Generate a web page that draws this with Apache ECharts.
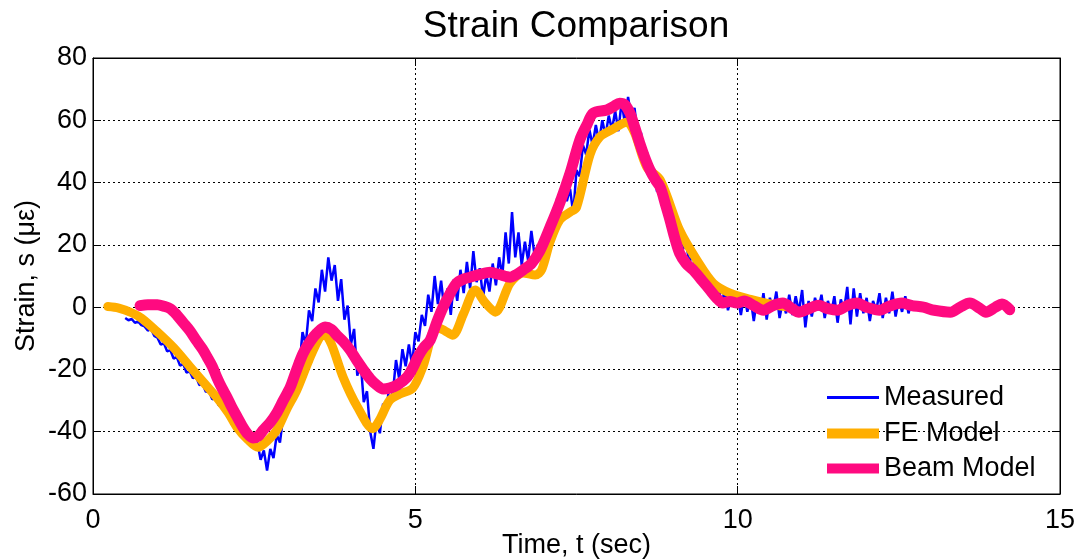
<!DOCTYPE html>
<html>
<head>
<meta charset="utf-8">
<script src="https://cdn.jsdelivr.net/npm/echarts@6/dist/echarts.min.js"></script>
<style>
html, body { margin: 0; padding: 0; background: #fff; }
#chart { width: 1078px; height: 560px; }
</style>
</head>
<body>
<div id="chart"></div>
<script>
var chart = echarts.init(document.getElementById('chart'));
var fontFamily = 'Liberation Sans, Arial, sans-serif';

// [time (sec), strain]
var measured = [
    [0.50, -3.5], [0.55, -4.2], [0.60, -3.8], [0.65, -5.0], [0.70, -4.6], [0.75, -5.8], [0.80, -6.2], [0.85, -7.5],
    [0.90, -7.0], [0.95, -9.2], [1.00, -9.8], [1.05, -12.0], [1.10, -11.6], [1.15, -14.2], [1.20, -13.8], [1.25, -16.5],
    [1.30, -16.0], [1.35, -18.8], [1.40, -18.2], [1.45, -21.0], [1.50, -20.6], [1.55, -22.8], [1.60, -22.4], [1.65, -25.0],
    [1.70, -24.6], [1.75, -27.2], [1.80, -27.0], [1.85, -29.6], [1.90, -29.0], [1.95, -31.5], [2.00, -31.8], [2.05, -34.0],
    [2.10, -33.2], [2.15, -36.8], [2.20, -35.5], [2.25, -33.8], [2.30, -39.0], [2.35, -38.0], [2.40, -42.5], [2.45, -41.0],
    [2.50, -45.5], [2.55, -43.5], [2.60, -49.0], [2.65, -46.0], [2.70, -52.5], [2.75, -45.5], [2.80, -48.5], [2.85, -41.0],
    [2.90, -43.5], [2.95, -35.0], [3.00, -33.0], [3.05, -24.0], [3.10, -27.5], [3.15, -17.0], [3.20, -19.5], [3.25, -8.0],
    [3.30, -12.0], [3.35, -1.0], [3.40, -4.5], [3.45, 6.0], [3.50, 1.5], [3.55, 12.0], [3.60, 5.0], [3.65, 16.0],
    [3.70, 8.5], [3.75, 13.5], [3.80, 2.0], [3.85, 9.0], [3.90, -4.0], [3.95, 0.5], [4.00, -12.0], [4.05, -7.0],
    [4.10, -22.0], [4.15, -17.0], [4.20, -30.5], [4.25, -27.0], [4.30, -40.0], [4.35, -45.5], [4.40, -36.0], [4.45, -40.5],
    [4.50, -31.0], [4.55, -33.5], [4.60, -24.5], [4.65, -28.0], [4.70, -17.0], [4.75, -23.0], [4.80, -13.5], [4.85, -19.0],
    [4.90, -12.0], [4.95, -18.5], [5.00, -8.0], [5.05, -11.0], [5.10, -2.5], [5.15, -6.0], [5.20, 4.0], [5.25, -1.5],
    [5.30, 10.0], [5.35, 1.0], [5.40, 8.5], [5.45, -1.0], [5.50, 6.0], [5.55, -2.5], [5.60, 9.0], [5.65, 2.0],
    [5.70, 12.0], [5.75, 4.5], [5.80, 14.5], [5.85, 6.0], [5.90, 18.0], [5.95, 8.0], [6.00, 12.5], [6.05, 3.0],
    [6.10, 10.5], [6.15, 5.0], [6.20, 14.0], [6.25, 7.0], [6.30, 16.0], [6.35, 10.0], [6.40, 24.0], [6.45, 14.0],
    [6.50, 30.5], [6.55, 16.0], [6.60, 24.0], [6.65, 13.5], [6.70, 21.0], [6.75, 15.0], [6.80, 24.5], [6.85, 16.5],
    [6.90, 20.0], [6.95, 18.0], [7.00, 24.0], [7.05, 21.5], [7.10, 28.0], [7.15, 25.0], [7.20, 35.0], [7.25, 30.0],
    [7.30, 40.5], [7.35, 34.0], [7.40, 38.0], [7.45, 30.0], [7.50, 44.0], [7.55, 42.0], [7.60, 52.0], [7.65, 49.0],
    [7.70, 57.0], [7.75, 52.0], [7.80, 58.5], [7.85, 53.0], [7.90, 60.0], [7.95, 55.0], [8.00, 61.5], [8.05, 57.0],
    [8.10, 63.0], [8.15, 56.5], [8.20, 66.0], [8.25, 59.0], [8.30, 67.5], [8.35, 61.0], [8.40, 64.0], [8.45, 55.0],
    [8.50, 56.0], [8.55, 48.0], [8.60, 49.5], [8.65, 43.0], [8.70, 44.5], [8.75, 37.0], [8.80, 38.5], [8.85, 31.0],
    [8.90, 35.0], [8.95, 27.0], [9.00, 30.0], [9.05, 22.0], [9.10, 25.0], [9.15, 18.5], [9.20, 21.0], [9.25, 14.0],
    [9.30, 17.5], [9.35, 11.0], [9.40, 14.5], [9.45, 7.0], [9.50, 11.0], [9.55, 4.5], [9.60, 9.0], [9.65, 3.0],
    [9.70, 7.0], [9.75, 1.0], [9.80, 5.5], [9.85, -1.0], [9.90, 4.0], [9.95, 0.0], [10.00, 3.5], [10.05, -2.5],
    [10.10, 4.0], [10.15, -1.5], [10.20, 3.0], [10.25, -4.5], [10.30, 2.5], [10.35, -2.0], [10.40, 4.5], [10.45, -4.0],
    [10.50, 3.0], [10.55, -1.0], [10.60, 5.0], [10.65, -3.5], [10.70, 2.0], [10.75, -2.0], [10.80, 4.0], [10.85, -2.5],
    [10.90, 3.5], [10.95, -1.5], [11.00, 5.5], [11.05, -6.5], [11.10, 2.0], [11.15, -3.0], [11.20, 3.0], [11.25, -1.0],
    [11.30, 4.0], [11.35, -3.5], [11.40, 2.0], [11.45, -2.0], [11.50, 3.5], [11.55, -5.0], [11.60, 2.5], [11.65, -1.0],
    [11.70, 6.5], [11.75, -5.5], [11.80, 6.0], [11.85, -3.0], [11.90, 4.5], [11.95, -2.0], [12.00, 3.0], [12.05, -4.5],
    [12.10, 2.0], [12.15, -1.0], [12.20, 4.5], [12.25, -3.5], [12.30, 3.0], [12.35, -2.0], [12.40, 5.0], [12.45, -3.0],
    [12.50, 2.5], [12.55, -1.5], [12.60, 3.5], [12.65, -2.0], [12.70, 2.0], [12.75, -1.0], [12.80, 1.5], [12.85, -0.5],
    [12.90, 1.0]
];

var feModel = [
    [0.23, 0.2], [0.4, -0.3], [0.6, -1.8], [0.75, -3.5], [1.0, -8], [1.25, -13], [1.5, -19], [1.75, -25],
    [1.92, -29], [2.1, -34], [2.23, -38.5], [2.4, -42.5], [2.56, -45], [2.7, -43], [2.85, -39.5], [3.0, -33],
    [3.16, -26.7], [3.35, -17], [3.52, -9.6], [3.6, -9], [3.7, -12], [3.88, -22.5], [4.1, -32], [4.34, -39],
    [4.45, -36], [4.6, -30], [4.75, -28], [4.96, -26], [5.12, -19], [5.33, -6.4], [5.45, -7.5], [5.58, -9],
    [5.75, -2], [5.93, 5.5], [6.08, 1.5], [6.24, -1.6], [6.47, 7.7], [6.67, 11], [6.86, 10.3], [6.96, 12],
    [7.09, 21], [7.24, 28], [7.4, 30.5], [7.5, 32], [7.71, 49], [7.86, 54.6], [8.05, 57], [8.28, 59.4],
    [8.4, 56], [8.59, 45], [8.8, 40.8], [9.1, 24.7], [9.37, 15], [9.62, 7.7], [9.88, 4.5], [10.2, 2.5],
    [10.5, 1], [10.8, 0]
];

var beamModel = [
    [0.73, 0.5], [0.85, 0.8], [1.0, 0.8], [1.1, 0.3], [1.2, -0.5], [1.3, -2.5], [1.4, -5], [1.5, -7.5],
    [1.6, -10.6], [1.7, -13.5], [1.77, -16], [1.85, -19], [1.92, -22.5], [2.0, -26], [2.08, -29], [2.15, -32],
    [2.23, -35], [2.31, -38], [2.39, -40.5], [2.48, -42], [2.56, -41.5], [2.64, -39.5], [2.75, -37], [2.85, -34],
    [2.95, -30], [3.06, -25.7], [3.16, -20], [3.26, -14.8], [3.37, -11], [3.47, -8.4], [3.6, -6.4], [3.7, -7.2],
    [3.78, -9], [3.88, -11], [3.99, -13.8], [4.09, -17], [4.19, -20], [4.3, -23], [4.4, -25], [4.5, -26.3],
    [4.6, -26], [4.72, -25], [4.87, -22.5], [4.96, -19.5], [5.04, -16], [5.13, -13], [5.23, -10.6], [5.33, -5],
    [5.43, 0], [5.53, 4], [5.64, 7.7], [5.75, 9], [5.85, 9.6], [6.0, 10.5], [6.16, 11.2], [6.3, 10.5],
    [6.47, 9.6], [6.57, 10.5], [6.67, 11.9], [6.8, 14], [6.93, 18], [7.09, 25.7], [7.24, 33.4], [7.4, 43],
    [7.55, 53.6], [7.66, 58.5], [7.76, 62.3], [7.97, 63.3], [8.08, 64.5], [8.17, 65.5], [8.25, 65], [8.33, 62.3],
    [8.4, 58], [8.48, 52.7], [8.56, 48], [8.64, 44], [8.72, 41], [8.8, 38.5], [8.88, 33], [8.95, 28],
    [9.02, 22.5], [9.1, 17.3], [9.2, 14], [9.31, 11.9], [9.45, 8.5], [9.57, 5.5], [9.67, 3], [9.77, 1.3],
    [9.88, 1.8], [9.99, 1.3], [10.1, 2], [10.25, 0.5], [10.4, -1], [10.55, 0.5], [10.7, 1.3], [10.85, -0.5],
    [10.95, -1.6], [11.1, -0.5], [11.25, 0.6], [11.4, -0.5], [11.55, -1], [11.7, 0.5], [11.85, 1.3], [12.0, 0],
    [12.2, -1], [12.35, 0.3], [12.55, 1.3], [12.7, 0.5], [12.88, 0], [13.05, -1], [13.3, -1.6], [13.45, 0],
    [13.6, 1.3], [13.75, -0.3], [13.85, -1.6], [14.0, 0], [14.1, 1], [14.22, -0.8]
];

var xMin = 0, xMax = 15, xStep = 5;
var yMin = -60, yMax = 80, yStep = 20;

var blue = '#0000ff';
var orange = '#ffae00';
var pink = '#ff0a80';

// one legend per entry so each swatch can have its own thickness
function legendItem(name, top, height) {
    return {
        data: [{ name: name, icon: 'rect' }],
        left: 827,
        top: top,
        padding: 0,
        itemWidth: 52,
        itemHeight: height,
        textStyle: { fontFamily: fontFamily, fontSize: 27, color: '#000' },
        selectedMode: false
    };
}

option = {
    backgroundColor: '#fff',
    animation: false,
    title: {
        text: 'Strain Comparison',
        left: 576,
        top: 8,
        padding: 0,
        textAlign: 'center',
        textStyle: { fontFamily: fontFamily, fontSize: 37, fontWeight: 'normal', color: '#000' }
    },
    legend: [
        legendItem('Measured', 384, 3),
        legendItem('FE Model', 420, 10),
        legendItem('Beam Model', 455, 10)
    ],
    grid: {
        left: 93,
        right: 18,
        top: 58,
        bottom: 66,
        outerBoundsMode: 'none',
        show: true,
        borderColor: '#000',
        borderWidth: 1
    },
    xAxis: [{
        type: 'value',
        min: xMin,
        max: xMax,
        interval: xStep,
        name: 'Time, t (sec)',
        nameLocation: 'middle',
        nameGap: 38,
        nameMoveOverlap: false,
        nameTextStyle: { fontFamily: fontFamily, fontSize: 27, color: '#000' },
        axisLine: { show: true, onZero: false, lineStyle: { color: '#000' } },
        axisTick: { show: true, inside: true, length: 8, lineStyle: { color: '#000' } },
        axisLabel: { fontFamily: fontFamily, fontSize: 27, color: '#000', margin: 13 },
        splitLine: { show: true, lineStyle: { color: '#000', type: [2, 3], width: 1 } }
    }, {
        type: 'value',
        position: 'top',
        min: xMin,
        max: xMax,
        interval: xStep,
        axisLine: { show: true, onZero: false, lineStyle: { color: '#000' } },
        axisTick: { show: true, inside: true, length: 8, lineStyle: { color: '#000' } },
        axisLabel: { show: false },
        splitLine: { show: false }
    }],
    yAxis: [{
        type: 'value',
        min: yMin,
        max: yMax,
        interval: yStep,
        name: 'Strain, s (\u03bc\u03b5)',
        nameLocation: 'middle',
        nameGap: 53,
        nameMoveOverlap: false,
        nameTextStyle: { fontFamily: fontFamily, fontSize: 27, color: '#000' },
        axisLine: { show: true, onZero: false, lineStyle: { color: '#000' } },
        axisTick: { show: true, inside: true, length: 8, lineStyle: { color: '#000' } },
        axisLabel: { fontFamily: fontFamily, fontSize: 27, color: '#000', margin: 6, padding: [10, 0, 0, 0] },
        splitLine: { show: true, lineStyle: { color: '#000', type: [2, 3], width: 1 } }
    }, {
        type: 'value',
        position: 'right',
        min: yMin,
        max: yMax,
        interval: yStep,
        axisLine: { show: true, onZero: false, lineStyle: { color: '#000' } },
        axisTick: { show: true, inside: true, length: 8, lineStyle: { color: '#000' } },
        axisLabel: { show: false },
        splitLine: { show: false }
    }],
    series: [{
        name: 'Measured',
        type: 'line',
        data: measured,
        showSymbol: false,
        symbol: 'none',
        color: blue,
        lineStyle: { color: blue, width: 2.5 },
        z: 2
    }, {
        name: 'FE Model',
        type: 'line',
        data: feModel,
        showSymbol: false,
        symbol: 'none',
        smooth: 0.3,
        color: orange,
        lineStyle: { color: orange, width: 9, cap: 'round', join: 'round' },
        z: 3
    }, {
        name: 'Beam Model',
        type: 'line',
        data: beamModel,
        showSymbol: false,
        symbol: 'none',
        smooth: 0.3,
        color: pink,
        lineStyle: { color: pink, width: 11, cap: 'round', join: 'round' },
        z: 4
    }]
};

chart.setOption(option);
</script>
</body>
</html>
